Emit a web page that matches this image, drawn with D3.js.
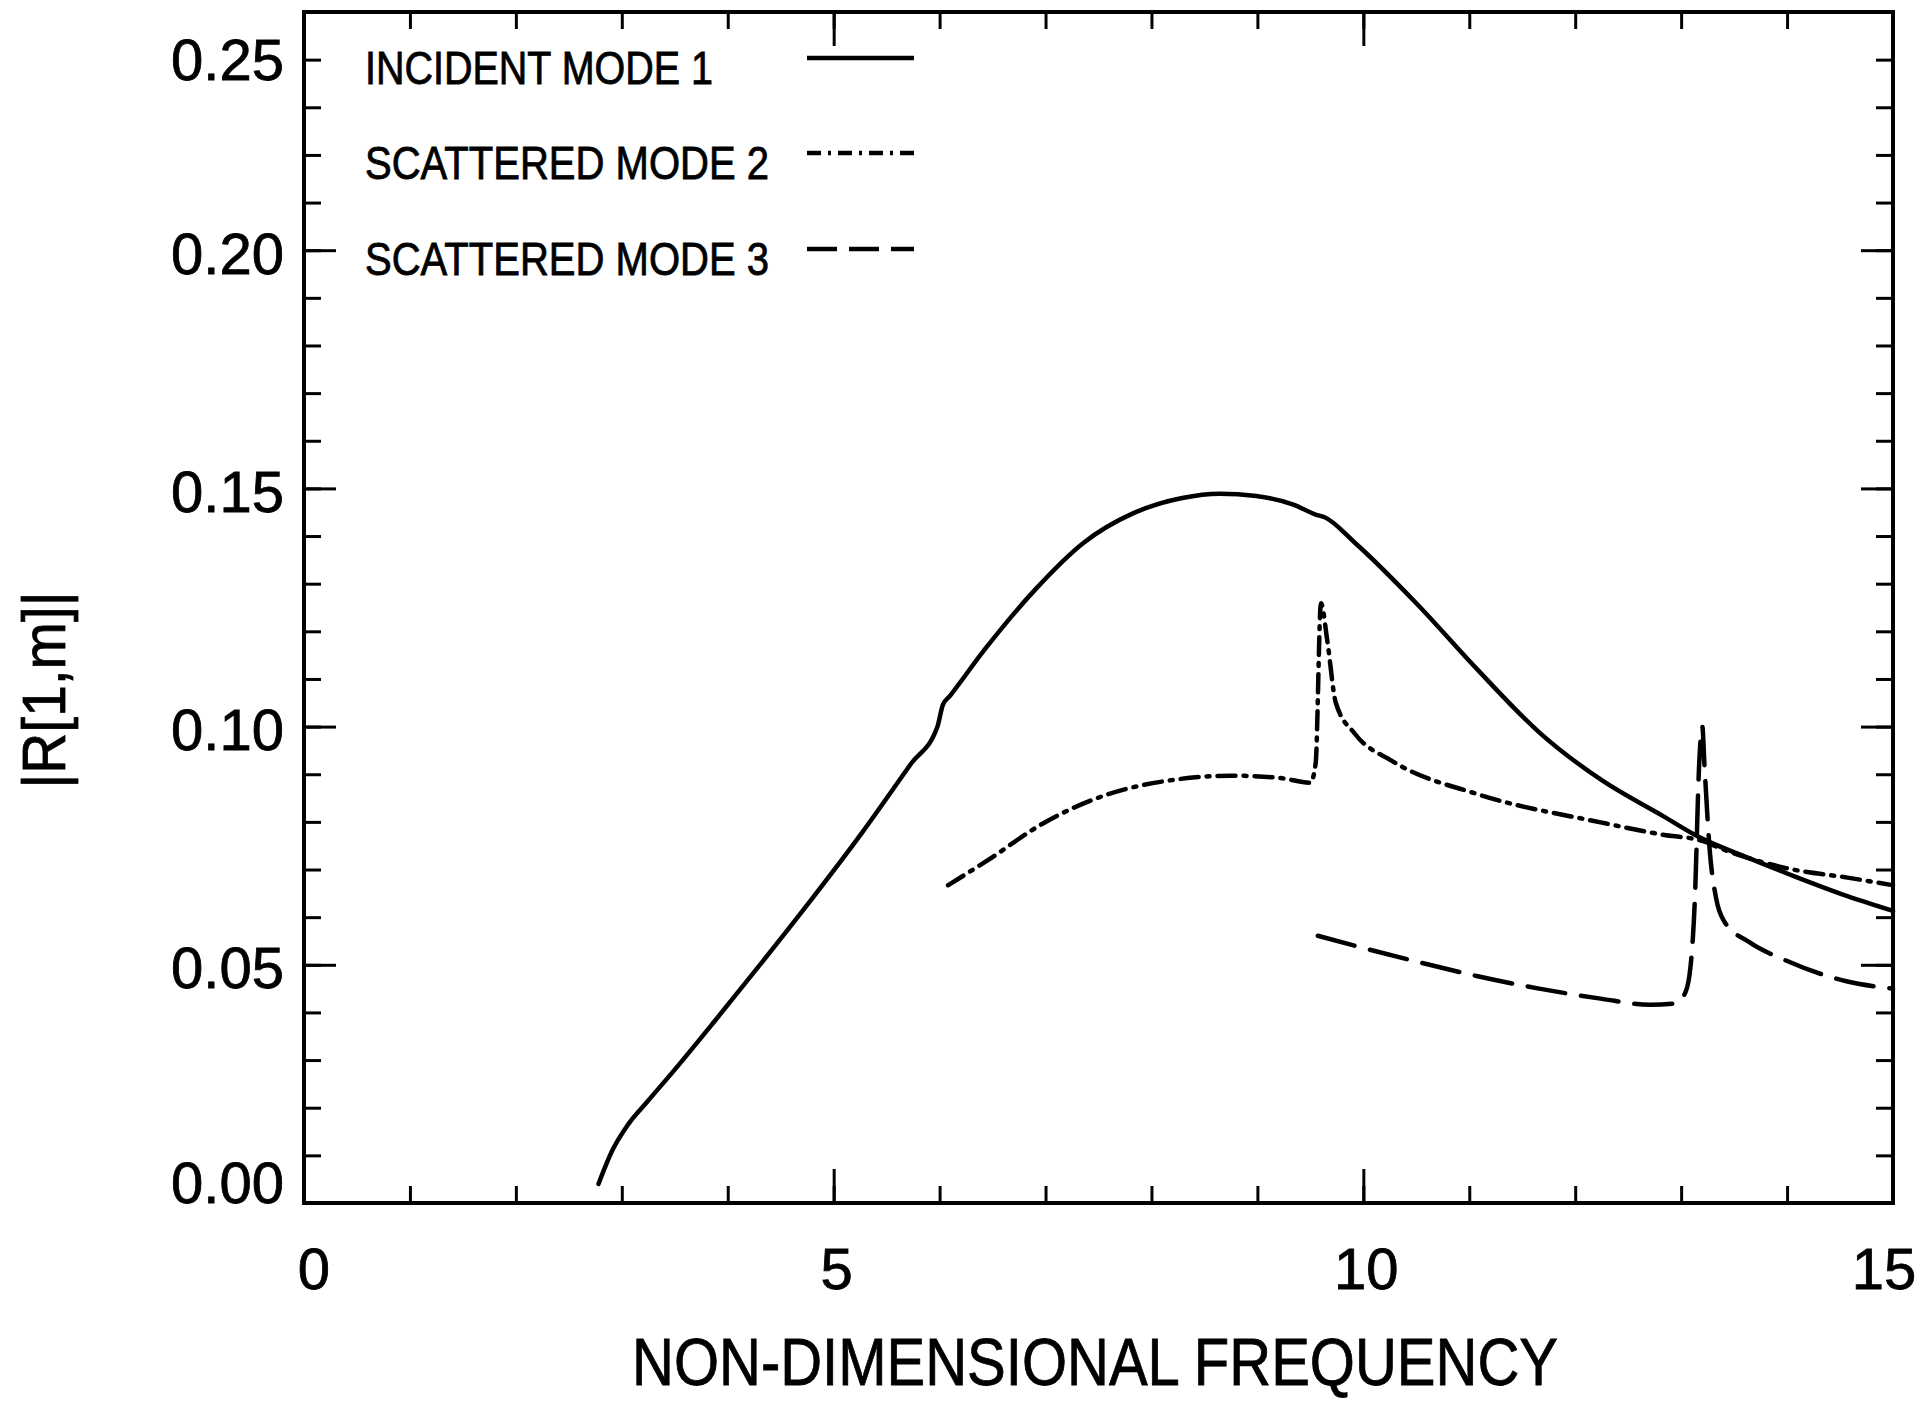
<!DOCTYPE html>
<html>
<head>
<meta charset="utf-8">
<script src="https://cdn.jsdelivr.net/npm/d3@7"></script>
<style>
  body { margin: 0; background: #fff; }
  text { font-family: "Liberation Sans", Arial, sans-serif; fill: #000; stroke: #000; stroke-width: 0.8; }
  .axis path, .axis line { stroke: #000; }
</style>
</head>
<body>
<div id="chart"></div>
<script>
// frequency vs |R[1,m]|
const mode1X = [2.78, 2.91, 3.06, 3.25, 3.5, 3.87, 4.34, 4.80, 5.27, 5.73, 5.98, 6.03, 6.10, 6.43, 6.90, 7.36, 7.83, 8.29, 8.64, 8.99, 9.34, 9.55, 9.63, 9.92, 10.5, 11.08, 11.66, 12.24, 12.83, 13.17, 13.64, 14.1, 14.57, 15.0];
const mode1Y = [0.004, 0.011, 0.0165, 0.0215, 0.028, 0.038, 0.051, 0.064, 0.0778, 0.0922, 0.1000, 0.1045, 0.1065, 0.1163, 0.1287, 0.1386, 0.1448, 0.148, 0.1489, 0.1484, 0.1466, 0.1445, 0.144, 0.1386, 0.1259, 0.1119, 0.0988, 0.0889, 0.0812, 0.0768, 0.0724, 0.0683, 0.0644, 0.0613];

const mode2X = [6.08, 6.43, 7.01, 7.59, 8.17, 8.76, 9.22, 9.5, 9.55, 9.6, 9.66, 9.74, 9.92, 10.27, 11.08, 12.24, 12.83, 13.2, 13.4, 13.99, 14.57, 15.0];
const mode2Y = [0.0667, 0.0716, 0.0801, 0.0858, 0.0887, 0.0897, 0.0892, 0.0882, 0.0923, 0.1259, 0.118, 0.105, 0.0985, 0.0928, 0.0858, 0.0799, 0.0773, 0.076, 0.0742, 0.0703, 0.0683, 0.0667];

const mode3X = [9.57, 9.92, 10.5, 11.08, 11.66, 12.24, 12.71, 12.94, 13.03, 13.08, 13.13, 13.17, 13.2, 13.22, 13.27, 13.33, 13.41, 13.64, 13.99, 14.57, 15.0];
const mode3Y = [0.0561, 0.054, 0.0507, 0.0476, 0.045, 0.0429, 0.0416, 0.0419, 0.0437, 0.048, 0.064, 0.092, 0.1, 0.092, 0.074, 0.064, 0.059, 0.0548, 0.0509, 0.0465, 0.045];

const legendLabels = ["INCIDENT MODE 1", "SCATTERED MODE 2", "SCATTERED MODE 3"];
const xTickLabels = [0, 5, 10, 15];
const yTickLabels = [0.00, 0.05, 0.10, 0.15, 0.20, 0.25];

const width = 1931, height = 1401;
const margin = {top: 12, right: 38, bottom: 198, left: 304};

const xScale = d3.scaleLinear().domain([0, 15]).range([margin.left, width - margin.right]);
const yScale = d3.scaleLinear().domain([0, 0.25]).range([height - margin.bottom, margin.top]);

const svg = d3.select("#chart").append("svg")
  .attr("width", width)
  .attr("height", height);

// ticks pointing inward on all four sides
const minorX = d3.range(0, 16);
const minorY = d3.range(0, 26).map(d => d / 100);

function tickAxis(axis, cls, transform) {
  const g = svg.append("g").attr("class", "axis " + cls)
    .attr("transform", transform)
    .call(axis);
  g.select(".domain").remove();
  g.selectAll("line").attr("stroke-width", 3);
  g.selectAll("text").remove();
  return g;
}

const bottomY = yScale(0), topY = yScale(0.25);
const leftX = xScale(0), rightX = xScale(15);

tickAxis(d3.axisBottom(xScale).tickValues(minorX).tickSize(-17), "xMinorB", `translate(0,${bottomY})`);
tickAxis(d3.axisBottom(xScale).tickValues([5, 10]).tickSize(-34), "xMajorB", `translate(0,${bottomY})`);
tickAxis(d3.axisTop(xScale).tickValues(minorX).tickSize(-17), "xMinorT", `translate(0,${topY})`);
tickAxis(d3.axisTop(xScale).tickValues([5, 10]).tickSize(-34), "xMajorT", `translate(0,${topY})`);
tickAxis(d3.axisLeft(yScale).tickValues(minorY).tickSize(-17), "yMinorL", `translate(${leftX},0)`);
tickAxis(d3.axisLeft(yScale).tickValues([0.05, 0.10, 0.15, 0.20]).tickSize(-32), "yMajorL", `translate(${leftX},0)`);
tickAxis(d3.axisRight(yScale).tickValues(minorY).tickSize(-17), "yMinorR", `translate(${rightX},0)`);
tickAxis(d3.axisRight(yScale).tickValues([0.05, 0.10, 0.15, 0.20]).tickSize(-32), "yMajorR", `translate(${rightX},0)`);

// frame
svg.append("rect")
  .attr("x", leftX).attr("y", topY)
  .attr("width", rightX - leftX).attr("height", bottomY - topY)
  .attr("fill", "none").attr("stroke", "#000").attr("stroke-width", 4);

// tick labels (the original nudges the end labels inward)
const yLabelShift = v => v === 0.25 ? 47 : (v === 0 ? -21 : 3);
svg.selectAll(".ylab").data(yTickLabels).join("text")
  .attr("class", "ylab")
  .attr("x", 284)
  .attr("y", d => yScale(d) + yLabelShift(d))
  .attr("text-anchor", "end")
  .attr("dominant-baseline", "central")
  .attr("font-size", 58)
  .text(d => d.toFixed(2));

const xLabelShift = v => v === 0 ? 10 : (v === 15 ? -9 : 3);
svg.selectAll(".xlab").data(xTickLabels).join("text")
  .attr("class", "xlab")
  .attr("x", d => xScale(d) + xLabelShift(d))
  .attr("y", 1268)
  .attr("text-anchor", "middle")
  .attr("dominant-baseline", "central")
  .attr("font-size", 58)
  .text(d => d);

// axis titles
svg.append("text")
  .attr("x", 1095).attr("y", 1362)
  .attr("text-anchor", "middle")
  .attr("dominant-baseline", "central")
  .attr("font-size", 66)
  .attr("textLength", 926)
  .attr("lengthAdjust", "spacingAndGlyphs")
  .text("NON-DIMENSIONAL FREQUENCY");

svg.append("text")
  .attr("transform", `translate(${43}, ${690})rotate(-90)`)
  .attr("text-anchor", "middle")
  .attr("dominant-baseline", "central")
  .attr("font-size", 62)
  .attr("textLength", 197)
  .attr("lengthAdjust", "spacingAndGlyphs")
  .text("|R[1,m]|");

// curves
const series = [
  {xs: mode1X, ys: mode1Y, dash: null},
  {xs: mode2X, ys: mode2Y, dash: "18,8,3,8"},
  {xs: mode3X, ys: mode3Y, dash: "38,16"}
];

const line = d3.line()
  .x(d => xScale(d[0]))
  .y(d => yScale(d[1]))
  .curve(d3.curveMonotoneX);

series.forEach(s => {
  svg.append("path")
    .datum(s.xs.map((x, i) => [x, s.ys[i]]))
    .attr("fill", "none")
    .attr("stroke", "#000")
    .attr("stroke-width", 4.5)
    .attr("stroke-linecap", "round")
    .attr("stroke-dasharray", s.dash)
    .attr("d", line);
});

// legend
const legendRowY = [68, 163, 259];
const legendTextW = [348, 404, 404];
const legendDash = [null, "14,7,3,7", "30,12"];
legendLabels.forEach((lab, i) => {
  svg.append("text")
    .attr("x", 365).attr("y", legendRowY[i])
    .attr("dominant-baseline", "central")
    .attr("font-size", 46)
    .attr("textLength", legendTextW[i])
    .attr("lengthAdjust", "spacingAndGlyphs")
    .text(lab);
  svg.append("line")
    .attr("x1", 807).attr("x2", 914)
    .attr("y1", legendRowY[i] - 10).attr("y2", legendRowY[i] - 10)
    .attr("stroke", "#000")
    .attr("stroke-width", 4.5)
    .attr("stroke-dasharray", legendDash[i]);
});
</script>
</body>
</html>
